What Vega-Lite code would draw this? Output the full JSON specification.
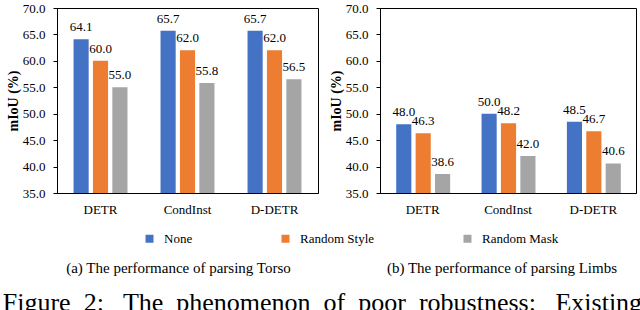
{
  "$schema": "https://vega.github.io/schema/vega-lite/v6.json",
  "padding": {"left": 2, "top": 1, "right": 0, "bottom": 0},
  "config": {
    "font": "Liberation Serif, Times New Roman, serif",
    "view": {"stroke": "#000", "strokeWidth": 1},
    "text": {"font": "Liberation Serif, Times New Roman, serif"},
    "axis": {"labelFont": "Liberation Serif, Times New Roman, serif", "titleFont": "Liberation Serif, Times New Roman, serif", "labelColor": "#000", "titleColor": "#000", "domainColor": "#000", "tickColor": "#000", "labelFontSize": 13, "grid": false},
    "legend": {"labelFont": "Liberation Serif, Times New Roman, serif", "labelFontSize": 13, "labelColor": "#000", "padding": 0}
  },
  "datasets": {
    "torso": [
      {"model": "DETR", "cond": "None", "value": 64.1},
      {"model": "DETR", "cond": "Random Style", "value": 60.0},
      {"model": "DETR", "cond": "Random Mask", "value": 55.0},
      {"model": "CondInst", "cond": "None", "value": 65.7},
      {"model": "CondInst", "cond": "Random Style", "value": 62.0},
      {"model": "CondInst", "cond": "Random Mask", "value": 55.8},
      {"model": "D-DETR", "cond": "None", "value": 65.7},
      {"model": "D-DETR", "cond": "Random Style", "value": 62.0},
      {"model": "D-DETR", "cond": "Random Mask", "value": 56.5}
    ],
    "limbs": [
      {"model": "DETR", "cond": "None", "value": 48.0},
      {"model": "DETR", "cond": "Random Style", "value": 46.3},
      {"model": "DETR", "cond": "Random Mask", "value": 38.6},
      {"model": "CondInst", "cond": "None", "value": 50.0},
      {"model": "CondInst", "cond": "Random Style", "value": 48.2},
      {"model": "CondInst", "cond": "Random Mask", "value": 42.0},
      {"model": "D-DETR", "cond": "None", "value": 48.5},
      {"model": "D-DETR", "cond": "Random Style", "value": 46.7},
      {"model": "D-DETR", "cond": "Random Mask", "value": 40.6}
    ]
  },
  "title": {"text": "Figure\u00a0 2:\u00a0\u00a0 The\u00a0 phenomenon\u00a0 of\u00a0 poor\u00a0 robustness:\u00a0\u00a0 Existing", "orient": "bottom", "anchor": "start", "fontSize": 26, "fontWeight": "normal", "font": "Liberation Serif, Times New Roman, serif", "color": "#000", "offset": 13, "dx": -3},
  "spacing": 9,
  "resolve": {"scale": {"color": "shared"}},
  "hconcat": [
    {
      "width": 261, "height": 185,
      "data": {"name": "torso"},
      "title": {"text": "(a) The performance of parsing Torso", "orient": "bottom", "fontSize": 15, "fontWeight": "normal", "font": "Liberation Serif, Times New Roman, serif", "color": "#000", "offset": 45, "dx": -9},
      "encoding": {
        "x": {"field": "model", "type": "nominal", "sort": ["DETR", "CondInst", "D-DETR"], "scale": {"paddingInner": 0.38, "paddingOuter": 0.19}, "axis": {"title": null, "labelAngle": 0, "ticks": false, "labelPadding": 10}},
        "xOffset": {"field": "cond", "type": "nominal", "sort": ["None", "Random Style", "Random Mask"], "scale": {"paddingInner": 0.22, "paddingOuter": 0}},
        "y": {"field": "value", "type": "quantitative", "scale": {"domain": [35, 70], "nice": false, "zero": false}, "axis": {"values": [35, 40, 45, 50, 55, 60, 65, 70], "format": ".1f", "title": "mIoU (%)", "titleFontWeight": "bold", "titleFontSize": 14, "tickSize": 4, "labelPadding": 8, "titlePadding": 2}}
      },
      "layer": [
        {"mark": {"type": "bar", "clip": true},
         "encoding": {"color": {"field": "cond", "type": "nominal", "scale": {"domain": ["None", "Random Style", "Random Mask"], "range": ["#4472C4", "#ED7D31", "#A5A5A5"]},
           "legend": {"title": null, "orient": "none", "legendX": 86, "legendY": 224, "direction": "horizontal", "columns": 3, "columnPadding": 86, "symbolType": "square", "symbolSize": 64, "labelOffset": 8}}}},
        {"mark": {"type": "text", "baseline": "bottom", "dy": -5, "fontSize": 13, "color": "#000"},
         "encoding": {"text": {"field": "value", "type": "quantitative", "format": ".1f"}}}
      ]
    },
    {
      "width": 256, "height": 185,
      "data": {"name": "limbs"},
      "title": {"text": "(b) The performance of parsing Limbs", "orient": "bottom", "fontSize": 15, "fontWeight": "normal", "font": "Liberation Serif, Times New Roman, serif", "color": "#000", "offset": 45, "dx": -6},
      "encoding": {
        "x": {"field": "model", "type": "nominal", "sort": ["DETR", "CondInst", "D-DETR"], "scale": {"paddingInner": 0.38, "paddingOuter": 0.19}, "axis": {"title": null, "labelAngle": 0, "ticks": false, "labelPadding": 10}},
        "xOffset": {"field": "cond", "type": "nominal", "sort": ["None", "Random Style", "Random Mask"], "scale": {"paddingInner": 0.22, "paddingOuter": 0}},
        "y": {"field": "value", "type": "quantitative", "scale": {"domain": [35, 70], "nice": false, "zero": false}, "axis": {"values": [35, 40, 45, 50, 55, 60, 65, 70], "format": ".1f", "title": "mIoU (%)", "titleFontWeight": "bold", "titleFontSize": 14, "tickSize": 4, "labelPadding": 8, "titlePadding": 2}}
      },
      "layer": [
        {"mark": {"type": "bar", "clip": true},
         "encoding": {"color": {"field": "cond", "type": "nominal", "scale": {"domain": ["None", "Random Style", "Random Mask"], "range": ["#4472C4", "#ED7D31", "#A5A5A5"]}}}},
        {"mark": {"type": "text", "baseline": "bottom", "dy": -5, "fontSize": 13, "color": "#000"},
         "encoding": {"text": {"field": "value", "type": "quantitative", "format": ".1f"}}}
      ]
    }
  ]
}
